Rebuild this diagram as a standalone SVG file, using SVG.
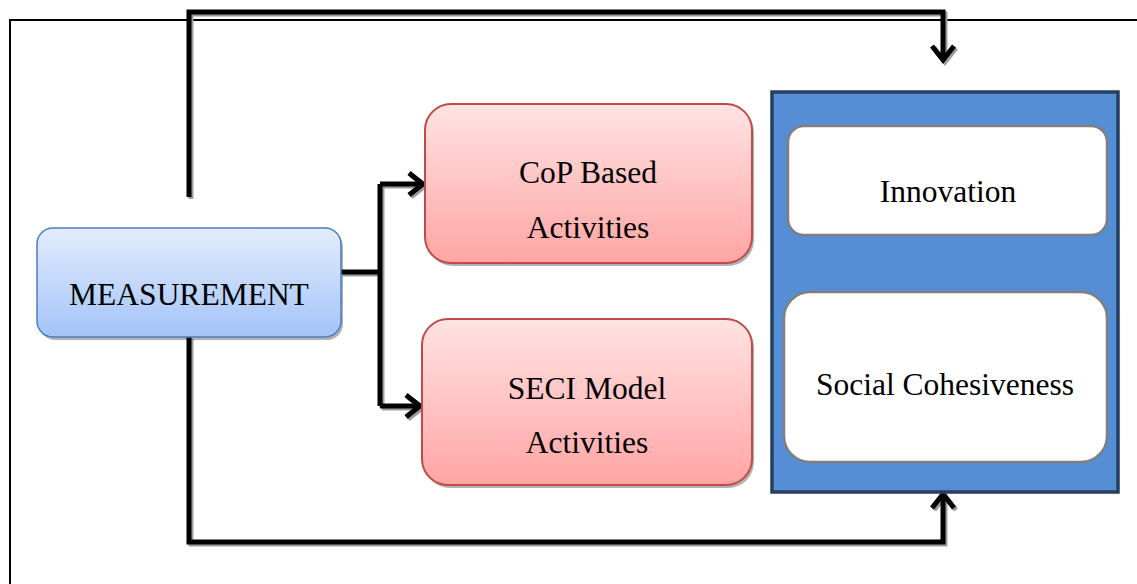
<svg xmlns="http://www.w3.org/2000/svg" xmlns:xlink="http://www.w3.org/1999/xlink" width="1137" height="584" viewBox="0 0 1137 584">
<style>
  .t { font-family: "Liberation Serif", "Times New Roman", serif; font-size: 31.5px; fill: #000; text-anchor: middle; }
  .shadow { fill: #000; opacity: 0.3; }
  .blueBox { fill: url(#gBlue); stroke: #4a7ebb; stroke-width: 1.5; }
  .redBox { fill: url(#gRed); stroke: #be4b48; stroke-width: 2; }
  .whiteBox { fill: #fff; stroke: #7f7f7f; stroke-width: 2.5; }
</style>
<defs>
  <linearGradient id="gBlue" x1="0" y1="0" x2="0" y2="1">
    <stop offset="0" stop-color="#e3ecfd"/>
    <stop offset="1" stop-color="#a3c4f9"/>
  </linearGradient>
  <linearGradient id="gRed" x1="0" y1="0" x2="0" y2="1">
    <stop offset="0" stop-color="#ffe3e3"/>
    <stop offset="1" stop-color="#ffa5a4"/>
  </linearGradient>
  <g id="lines" fill="none" stroke-width="5" stroke-linejoin="miter">
    <path d="M189,197 V12 H943 V59"/>
    <polyline points="932,46 943,60 954,46"/>
    <path d="M189,337 V542 H943 V495"/>
    <polyline points="932,508 943,494 954,508"/>
    <path d="M341,272 H380"/>
    <path d="M380,184 V406"/>
    <path d="M380,184 H423"/>
    <polyline points="409,173 423,184 409,195"/>
    <path d="M380,406 H420"/>
    <polyline points="406,395 420,406 406,417"/>
  </g>
</defs>
<rect width="1137" height="584" fill="#fff"/>
<path id="frame" d="M10,584 V20 H1137" fill="none" stroke="#000" stroke-width="2"/>

<g id="connectors">
  <use xlink:href="#lines" transform="translate(2,2)" stroke="#9c9c9c"/>
  <use xlink:href="#lines" stroke="#000"/>
</g>

<g id="measurement">
  <rect class="shadow" x="39" y="231" width="304" height="109" rx="16"/>
  <rect class="blueBox" x="37" y="228" width="304" height="109" rx="16"/>
  <text class="t" x="189" y="305">MEASUREMENT</text>
</g>

<g id="cop">
  <rect class="shadow" x="427" y="107" width="327" height="159" rx="26"/>
  <rect class="redBox" x="425" y="104" width="327" height="159" rx="26"/>
  <text class="t" x="588" y="183">CoP Based</text>
  <text class="t" x="588" y="238">Activities</text>
</g>

<g id="seci">
  <rect class="shadow" x="424" y="322" width="330" height="166" rx="26"/>
  <rect class="redBox" x="422" y="319" width="330" height="166" rx="26"/>
  <text class="t" x="587" y="399">SECI Model</text>
  <text class="t" x="587" y="453">Activities</text>
</g>

<g id="outcomes">
  <rect x="772" y="92" width="346" height="400" fill="#558ed5" stroke="#243f60" stroke-width="3.5"/>
  <g id="innovation">
    <rect class="whiteBox" x="788" y="126" width="319" height="109" rx="16"/>
    <text class="t" x="948" y="202">Innovation</text>
  </g>
  <g id="social">
    <rect class="whiteBox" x="784" y="292" width="323" height="170" rx="26"/>
    <text class="t" x="945" y="395">Social Cohesiveness</text>
  </g>
</g>
</svg>
